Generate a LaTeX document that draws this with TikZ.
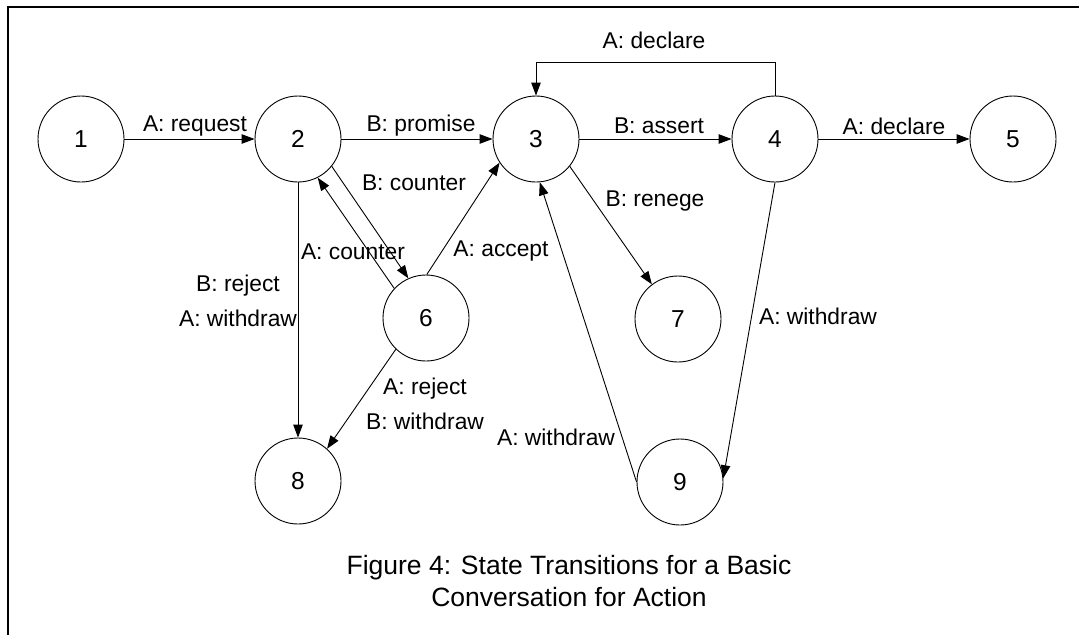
\documentclass[tikz,border=0pt]{standalone}
\usepackage{fontspec}
\setmainfont{Liberation Sans}
\usetikzlibrary{arrows.meta}
\begin{document}
\begin{tikzpicture}[x=1pt,y=-1pt,
  state/.style={circle,draw,line width=0.9pt,minimum size=86pt,inner sep=0pt,
    font=\fontsize{24.5}{24.5}\selectfont},
  lbl/.style={font=\fontsize{22.8}{26}\selectfont,inner sep=0pt},
  pair/.style={lbl,align=center,font=\fontsize{22.8}{35}\selectfont},
  edge/.style={line width=0.9pt,-{Triangle[length=13pt,width=9.5pt]}},
]
\useasboundingbox (0,0) rectangle (1079,635);
% frame (top and left edges)
\draw[line width=2.5pt] (8,635) -- (8,7) -- (1079,7);

% states
\node[state] (n1) at (81,139) {1};
\node[state] (n2) at (298,139) {2};
\node[state] (n3) at (536,139) {3};
\node[state] (n4) at (775,139) {4};
\node[state] (n5) at (1013,139) {5};
\node[state] (n6) at (426,318) {6};
\node[state] (n7) at (678,319) {7};
\node[state] (n8) at (298,481) {8};
\node[state] (n9) at (680,482) {9};

% transitions
\draw[edge] (n1) -- (n2);
\draw[edge] (n2) -- (n3);
\draw[edge] (n3) -- (n4);
\draw[edge] (n4) -- (n5);
\coordinate (up4) at (775,62);
\coordinate (up3) at (536,62);
\draw[edge] (n4.north) -- (up4) -- (up3) -- (n3.north);
\draw[edge] (n2.-39) -- (n6.114);
\draw[edge] (n6.137) -- (n2.-63);
\draw[edge] (n6.89) -- (n3.213);
\draw[edge] (n2.south) -- (n8.north);
\draw[edge] (n6.-134) -- (n8.48);
\draw[edge] (n3.-39) -- (n7.127);
\draw[edge] (n4.-90) -- (n9.5);
\draw[edge] (n9.180) -- (n3.-85);

% transition labels
\node[lbl] (l12) at (195,126) {A: request};
\node[lbl] (l23) at (421,126) {B: promise};
\node[lbl] (l34) at (659,126) {B: assert};
\node[lbl] (l45) at (894,126) {A: declare};
\node[lbl] (l43) at (654,40) {A: declare};
\node[lbl] (l26) at (414,183) {B: counter};
\node[lbl] (l62) at (353,252) {A: counter};
\node[lbl] (l63) at (501,251) {A: accept};
\node[pair] (l28) at (238,301) {B: reject\\A: withdraw};
\node[pair] (l68) at (425,404) {A: reject\\B: withdraw};
\node[lbl] (l37) at (655,201) {B: renege};
\node[lbl] (l49) at (818,316) {A: withdraw};
\node[lbl] (l93) at (556,437) {A: withdraw};

% caption
\node[pair,font=\fontsize{26.5}{32}\selectfont] (cap) at (569,581)
  {Figure 4: State Transitions for a Basic\\Conversation for Action};
\end{tikzpicture}
\end{document}
